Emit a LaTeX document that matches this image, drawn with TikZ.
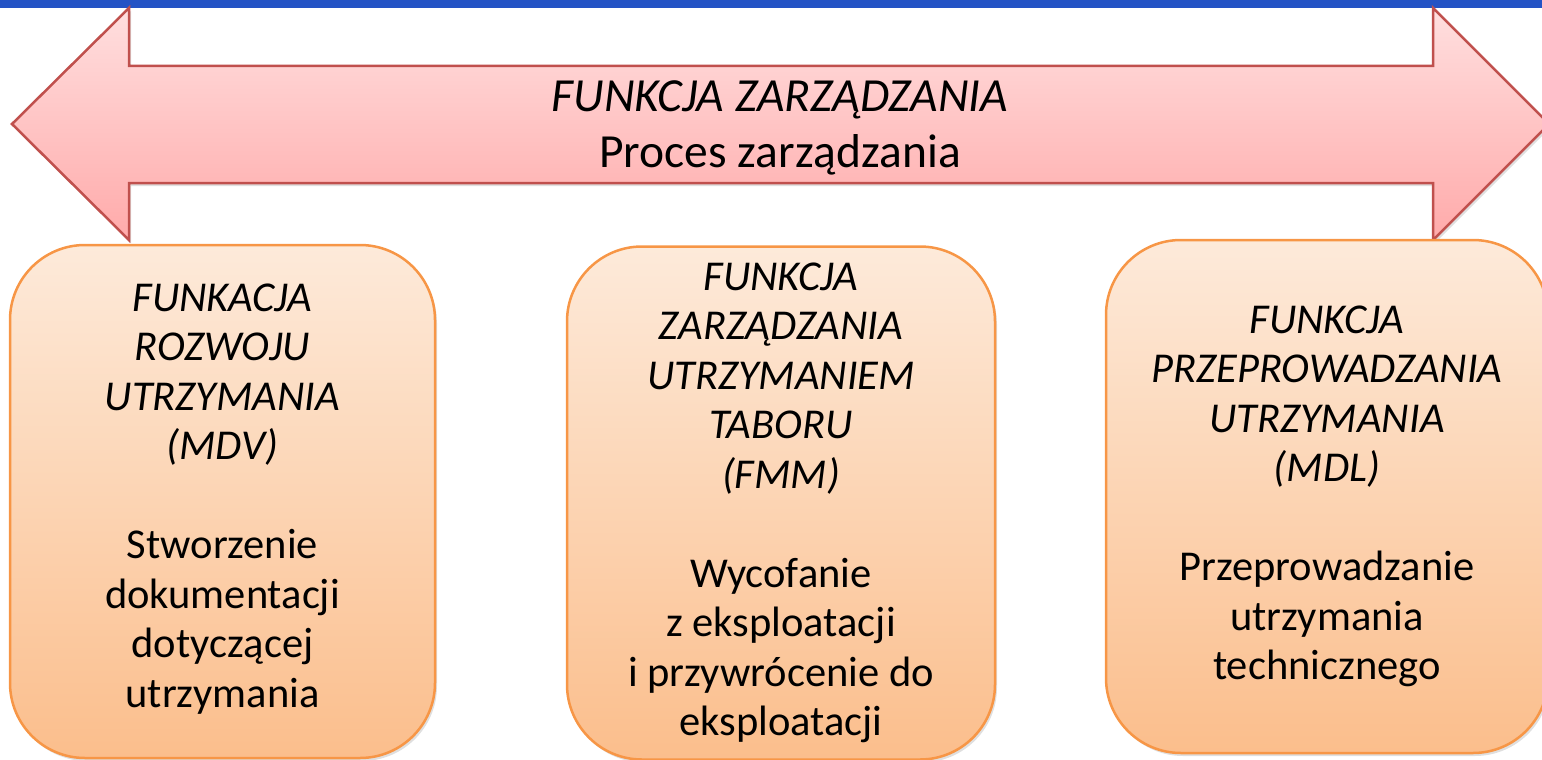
\documentclass[tikz,border=0pt]{standalone}
\usepackage{fontspec}
\setmainfont{Carlito}
\usetikzlibrary{shadows}
\definecolor{barblue}{HTML}{2453C5}
\definecolor{arrowline}{HTML}{C0504D}
\definecolor{arrowtop}{HTML}{FFDFDF}
\definecolor{arrowbottom}{HTML}{FFAAAA}
\definecolor{boxline}{HTML}{F79646}
\definecolor{boxtop}{HTML}{FDEADA}
\definecolor{boxbottom}{HTML}{FBBE8C}
\begin{document}
\begin{tikzpicture}[
        x=1pt, y=-1pt,
        bigarrow/.style={draw=arrowline, line width=2.5pt, line join=miter,
            top color=arrowtop, bottom color=arrowbottom,
            drop shadow={shadow xshift=2pt, shadow yshift=-3pt, opacity=0.25}},
        box/.style={draw=boxline, line width=2.5pt, rounded corners=75pt,
            top color=boxtop, bottom color=boxbottom, minimum height=513pt,
            align=center, font=\fontsize{42.5}{49.5}\selectfont,
            drop shadow={shadow xshift=2pt, shadow yshift=-3pt, opacity=0.25}},
        label/.style={align=center, font=\fontsize{47.5}{56}\selectfont}
    ]
        \useasboundingbox (0,0) rectangle (1542,760);
        \fill[barblue] (0,0) rectangle (1542,8);

        \path[bigarrow] (12,124) -- (129,8) -- (129,66) -- (1433,66) -- (1433,8)
            -- (1549,124) -- (1433,240) -- (1433,183) -- (129,183) -- (129,240) -- cycle;
        \node[label] (proces) at (780,128) {\textit{FUNKCJA ZARZĄDZANIA}\\Proces zarządzania};

        \node[box, minimum width=425pt] (mdv) at (222.5,501.5)
            {\textit{FUNKACJA}\\\textit{ROZWOJU}\\\textit{UTRZYMANIA}\\\textit{(MDV)}\\[49.5pt]
             Stworzenie\\dokumentacji\\dotyczącej\\utrzymania\rule[-12pt]{0pt}{0pt}};
        \node[box, minimum width=428pt] (fmm) at (781,503)
            {\textit{FUNKCJA}\\\textit{ZARZĄDZANIA}\\\textit{UTRZYMANIEM}\\\textit{TABORU}\\\textit{(FMM)}\\[49.5pt]
             Wycofanie\\z eksploatacji\\i przywrócenie do\\eksploatacji};
        \node[box, minimum width=442pt] (mdl) at (1327,496.5)
            {\textit{FUNKCJA}\\\textit{PRZEPROWADZANIA}\\\textit{UTRZYMANIA}\\\textit{(MDL)}\\[49.5pt]
             Przeprowadzanie\\utrzymania\\technicznego};
    \end{tikzpicture}
\end{document}
